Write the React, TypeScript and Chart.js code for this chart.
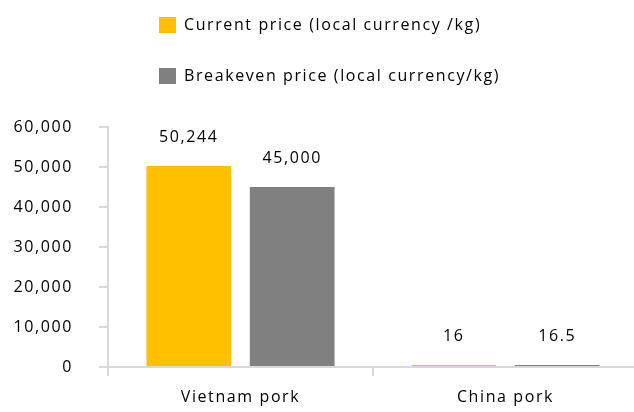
import React, { useEffect, useRef } from "react";
import { Chart, registerables } from "chart.js";

Chart.register(...registerables);

const categories = ["Vietnam pork", "China pork"];
const currentPrice = [50244, 16];
const breakevenPrice = [45000, 16.5];
const seriesLabels = [
  "Current price (local currency /kg)",
  "Breakeven price (local currency/kg)",
];
const seriesColors = ["#FFC000", "#808080"];
const yMin = 0;
const yMax = 60000;
const yStep = 10000;

const FONT = "'Open Sans', sans-serif";
const SPACING = "1.6px";
const TEXT = "#000";

const spacingPlugin = {
  id: "spacing",
  beforeUpdate(chart: any) {
    chart.ctx.letterSpacing = SPACING;
  },
  beforeLayout(chart: any) {
    chart.ctx.letterSpacing = SPACING;
  },
  beforeDraw(chart: any) {
    chart.ctx.letterSpacing = SPACING;
  },
};

const valueLabelPlugin = {
  id: "valueLabels",
  afterDatasetsDraw(chart: any) {
    const ctx = chart.ctx;
    ctx.save();
    ctx.letterSpacing = SPACING;
    ctx.font = `16px ${FONT}`;
    ctx.fillStyle = TEXT;
    ctx.textAlign = "center";
    ctx.textBaseline = "middle";
    chart.data.datasets.forEach((ds: any, di: number) => {
      const meta = chart.getDatasetMeta(di);
      meta.data.forEach((el: any, i: number) => {
        const v = ds.data[i] as number;
        ctx.fillText(v.toLocaleString("en-US"), el.x, el.y - 29);
      });
    });
    ctx.restore();
  },
};

const legendPlugin = {
  id: "stackedLegend",
  afterDraw(chart: any) {
    const ctx = chart.ctx;
    ctx.save();
    ctx.letterSpacing = SPACING;
    ctx.font = `16px ${FONT}`;
    ctx.textBaseline = "middle";
    ctx.textAlign = "left";
    chart.data.datasets.forEach((ds: any, i: number) => {
      const y = 25 + i * 51;
      ctx.fillStyle = ds.backgroundColor;
      ctx.fillRect(159, y - 8, 17, 16);
      ctx.fillStyle = TEXT;
      ctx.fillText(ds.label, 184, y);
    });
    ctx.restore();
  },
};

export default function App() {
  const ref = useRef<HTMLCanvasElement>(null);
  useEffect(() => {
    if (!ref.current) return;
    const chart = new Chart(ref.current, {
      type: "bar",
      data: {
        labels: categories,
        datasets: [
          {
            label: seriesLabels[0],
            data: currentPrice,
            backgroundColor: seriesColors[0],
            minBarLength: 2,
          },
          {
            label: seriesLabels[1],
            data: breakevenPrice,
            backgroundColor: seriesColors[1],
            minBarLength: 2,
          },
        ],
      },
      options: {
        responsive: false,
        animation: false,
        devicePixelRatio: 1,
        layout: { padding: { top: 127, left: 0, right: 2, bottom: 5 } },
        datasets: {
          bar: { categoryPercentage: 0.78, barPercentage: 0.82 },
        },
        plugins: {
          legend: { display: false },
          tooltip: { enabled: false },
        },
        font: { family: FONT, size: 16 },
        scales: {
          x: {
            afterFit(scale: any) {
              scale.height = 40;
            },
            grid: {
              display: true,
              drawOnChartArea: false,
              drawTicks: true,
              tickLength: 9,
              color: "#d9d9d9",
              lineWidth: 2,
              offset: true,
            },
            border: { display: true, color: "#d9d9d9", width: 2 },
            ticks: {
              color: TEXT,
              font: { family: FONT, size: 16 },
              padding: 12,
              maxRotation: 0,
            },
          },
          y: {
            min: yMin,
            max: yMax,
            afterFit(scale: any) {
              scale.width = 108;
            },
            grid: {
              display: true,
              drawOnChartArea: false,
              drawTicks: true,
              tickLength: 9,
              color: "#d9d9d9",
              lineWidth: 2,
            },
            border: { display: true, color: "#d9d9d9", width: 2 },
            ticks: {
              stepSize: yStep,
              color: TEXT,
              font: { family: FONT, size: 16 },
              padding: 26,
              callback: (v: any) => Number(v).toLocaleString("en-US"),
            },
          },
        },
      },
      plugins: [spacingPlugin, valueLabelPlugin, legendPlugin],
    } as any);
    return () => chart.destroy();
  }, []);
  return (
    <div
      style={{
        position: "absolute",
        left: 0,
        top: 0,
        width: 634,
        height: 412,
        overflow: "hidden",
        background: "#fff",
      }}
    >
      <canvas ref={ref} width={640} height={412} style={{ display: "block" }} />
    </div>
  );
}
